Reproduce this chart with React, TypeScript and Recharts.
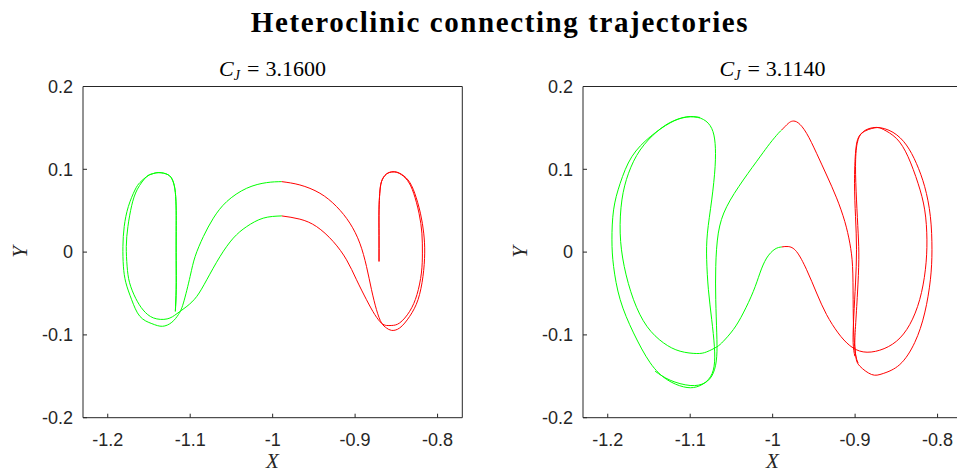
import { LineChart, Line, XAxis, YAxis } from "recharts";

const xTicks = [-1.2, -1.1, -1, -0.9, -0.8];
const yTicks = [-0.2, -0.1, 0, 0.1, 0.2];
const xDomain = [-1.23, -0.77];
const yDomain = [-0.2, 0.2];
const jacobi = ["3.1600", "3.1140"];

// C_J = 3.1600, green part (two branches meeting the section x = -0.989)
const leftGreenOuter = [
  [-1.118, -0.0716], [-1.117, -0.045], [-1.117, -0.01], [-1.117, 0.025], [-1.117, 0.05],
  [-1.118, 0.072], [-1.121, 0.086], [-1.127, 0.0935], [-1.138, 0.096], [-1.146, 0.0945],
  [-1.153, 0.091], [-1.161, 0.084], [-1.167, 0.075], [-1.175, 0.055], [-1.18, 0.031],
  [-1.1816, 0.0067], [-1.181, -0.017], [-1.178, -0.037], [-1.171, -0.0575], [-1.161, -0.0776],
  [-1.1465, -0.0864], [-1.1337, -0.0896], [-1.1223, -0.0848], [-1.1143, -0.0755], [-1.1082, -0.0614],
  [-1.1001, -0.0294], [-1.094, -0.0053], [-1.084, 0.0188], [-1.0719, 0.041], [-1.0557, 0.061],
  [-1.0315, 0.0771], [-1.0073, 0.0839], [-0.989, 0.0851],
];
const leftGreenInner = [
  [-1.118, -0.0716], [-1.117, -0.045], [-1.117, -0.01], [-1.117, 0.025], [-1.117, 0.05],
  [-1.118, 0.072], [-1.121, 0.086], [-1.127, 0.0935], [-1.138, 0.096], [-1.146, 0.0945],
  [-1.153, 0.091], [-1.164, 0.076], [-1.171, 0.056], [-1.1755, 0.031], [-1.1775, 0.0067],
  [-1.1765, -0.017], [-1.1735, -0.037], [-1.166, -0.056], [-1.157, -0.07], [-1.1446, -0.0795],
  [-1.128, -0.0807], [-1.116, -0.0743], [-1.104, -0.0655], [-1.092, -0.0535], [-1.0799, -0.0334],
  [-1.0638, -0.0053], [-1.0477, 0.0169], [-1.0315, 0.0308], [-1.0114, 0.041], [-0.989, 0.0437],
];
// C_J = 3.1600, red part
const leftRedOuter = [
  [-0.989, 0.0851], [-0.967, 0.0811], [-0.9427, 0.0711], [-0.9225, 0.055], [-0.9064, 0.035],
  [-0.8943, 0.0108], [-0.8862, -0.0173], [-0.8801, -0.0454], [-0.8741, -0.0695], [-0.868, -0.0855],
  [-0.862, -0.0916], [-0.856, -0.0945], [-0.8459, -0.0916], [-0.8338, -0.0776], [-0.8237, -0.0575],
  [-0.8177, -0.0294], [-0.8156, -0.0012], [-0.8168, 0.0229], [-0.8208, 0.047], [-0.8277, 0.0711],
  [-0.8358, 0.0871], [-0.8459, 0.0952], [-0.854, 0.0971], [-0.862, 0.0943], [-0.868, 0.0851],
  [-0.8701, 0.0711], [-0.871, 0.051], [-0.871, 0.02], [-0.871, -0.0113],
];
const leftRedInner = [
  [-0.989, 0.0437], [-0.967, 0.0398], [-0.9467, 0.0308], [-0.9266, 0.0128], [-0.9104, -0.0093],
  [-0.8983, -0.0334], [-0.8862, -0.0575], [-0.8761, -0.0755], [-0.868, -0.0858], [-0.862, -0.0886],
  [-0.8555, -0.0886], [-0.8459, -0.0855], [-0.8338, -0.0715], [-0.825, -0.0514], [-0.8196, -0.0253],
  [-0.8184, -0.0012], [-0.819, 0.0229], [-0.8225, 0.047], [-0.829, 0.0711], [-0.8365, 0.0865],
  [-0.8459, 0.0948], [-0.854, 0.0968], [-0.862, 0.0943], [-0.868, 0.0851], [-0.8701, 0.0711],
  [-0.871, 0.051], [-0.871, 0.02], [-0.871, -0.0113],
];

// C_J = 3.1140, green part
const rightGreenUpper = [
  [-1.1425, -0.1439], [-1.1243, -0.1547], [-1.1001, -0.1611], [-1.082, -0.1578], [-1.0719, -0.1458],
  [-1.0678, -0.1258], [-1.0678, -0.0976], [-1.069, -0.0575], [-1.069, -0.0173], [-1.0659, 0.0229],
  [-1.0557, 0.0549], [-1.0356, 0.0871], [-1.0154, 0.115], [-1.0033, 0.1313], [-0.9932, 0.1434],
  [-0.989, 0.1475],
];
const rightGreenLower = [
  [-0.989, 0.0062], [-0.9972, 0.0036], [-1.0073, -0.0072], [-1.0154, -0.0253], [-1.0235, -0.0476],
  [-1.0356, -0.0735], [-1.0477, -0.0936], [-1.0598, -0.1077], [-1.0678, -0.1145], [-1.08, -0.1205],
  [-1.092, -0.1225], [-1.1122, -0.1197], [-1.1324, -0.1096], [-1.1525, -0.0896], [-1.1687, -0.0575],
  [-1.18, -0.0173], [-1.1849, 0.0229], [-1.1828, 0.063], [-1.1748, 0.0952], [-1.1607, 0.1233],
  [-1.1404, 0.1454], [-1.1203, 0.1585], [-1.1001, 0.1634], [-1.084, 0.1602], [-1.0739, 0.1494],
  [-1.0698, 0.1313], [-1.0698, 0.1032], [-1.0739, 0.063], [-1.0791, 0.0229], [-1.08, -0.0092],
  [-1.0779, -0.0454], [-1.0739, -0.0815], [-1.0707, -0.1137], [-1.071, -0.1378], [-1.0779, -0.1539],
  [-1.092, -0.1627], [-1.1082, -0.1627], [-1.1283, -0.1539], [-1.1485, -0.1337], [-1.1687, -0.0976],
  [-1.1849, -0.0575], [-1.1929, -0.0173], [-1.1949, 0.0148], [-1.1929, 0.051], [-1.1849, 0.0831],
  [-1.1708, 0.1152], [-1.1485, 0.1393], [-1.1243, 0.1561], [-1.1041, 0.1634], [-1.088, 0.1626],
];
// C_J = 3.1140, red part
const rightRedUpper = [
  [-0.989, 0.1475], [-0.9811, 0.1554], [-0.9758, 0.1582], [-0.969, 0.1561], [-0.9588, 0.1434],
  [-0.9467, 0.1193], [-0.9346, 0.0931], [-0.9225, 0.0655], [-0.9125, 0.0369], [-0.9064, 0.0108],
  [-0.9031, -0.0173], [-0.9024, -0.0575], [-0.9016, -0.0976], [-0.8992, -0.1258], [-0.8942, -0.1378],
  [-0.8801, -0.1478], [-0.8659, -0.1466], [-0.8458, -0.1358], [-0.8277, -0.1092], [-0.8156, -0.0735],
  [-0.8087, -0.0334], [-0.8068, 0.0028], [-0.8087, 0.0429], [-0.8156, 0.079], [-0.8257, 0.1072],
  [-0.8378, 0.1293], [-0.854, 0.1446], [-0.8741, 0.1506], [-0.8902, 0.1454], [-0.8975, 0.1313],
  [-0.8995, 0.1032], [-0.8983, 0.063], [-0.8963, 0.0229], [-0.8955, -0.0092], [-0.8971, -0.0494],
  [-0.8995, -0.0896], [-0.9003, -0.1137], [-0.8985, -0.128], [-0.8963, -0.1337],
];
const rightRedLower = [
  [-0.989, 0.0062], [-0.9811, 0.0067], [-0.9711, 0.0007], [-0.9588, -0.0213], [-0.9467, -0.0494],
  [-0.9346, -0.0755], [-0.9206, -0.0976], [-0.9064, -0.1129], [-0.8902, -0.1205], [-0.8701, -0.1185],
  [-0.8499, -0.1077], [-0.8338, -0.0876], [-0.8217, -0.0575], [-0.8148, -0.0213], [-0.8129, 0.0148],
  [-0.8156, 0.051], [-0.8237, 0.0831], [-0.8358, 0.1152], [-0.8499, 0.1373], [-0.8659, 0.1482],
  [-0.876, 0.1501], [-0.8922, 0.1434], [-0.8992, 0.1233], [-0.9007, 0.0831], [-0.8995, 0.0429],
  [-0.8983, 0.0028], [-0.8995, -0.0373], [-0.9016, -0.0775], [-0.9024, -0.1092], [-0.9003, -0.1258],
];

const GREEN = "#00ff00";
const RED = "#ff0000";
const INK = "#262626";

const toPts = (a: number[][]) => a.map(([x, y]) => ({ x, y }));

const tickFont = { fill: INK, fontSize: 18, fontFamily: "'Liberation Sans', Arial, sans-serif" };
const serif = "'Liberation Serif', 'Times New Roman', serif";

function Panel({ left, cj, green, red }: { left: number; cj: string; green: number[][][]; red: number[][][] }) {
  return (
    <div style={{ position: "absolute", left, top: 0, width: 480, height: 472 }}>
      <div
        style={{
          position: "absolute", left: 0, width: 545, top: 57.5, textAlign: "center",
          fontFamily: serif, fontSize: 22, lineHeight: "22px", color: "#000", whiteSpace: "nowrap",
        }}
      >
        <i>C</i>
        <sub style={{ fontSize: 14, fontStyle: "italic", verticalAlign: "-4px" }}>J</sub>
        <span style={{ margin: "0 6px 0 7px" }}>=</span>
        {cj}
      </div>
      <LineChart width={480} height={472} margin={{ top: 76.5, right: 7.7, bottom: 24.3, left: 43 }}>
        <XAxis xAxisId="b" type="number" dataKey="x" domain={xDomain} ticks={xTicks} allowDataOverflow
          interval={0} height={30} tickSize={-4} tickMargin={20} stroke={INK} tick={tickFont} />
        <XAxis xAxisId="t" orientation="top" type="number" dataKey="x" domain={xDomain} ticks={xTicks}
          allowDataOverflow interval={0} height={10} tickSize={-4} stroke={INK} tick={false} />
        <YAxis yAxisId="l" type="number" domain={yDomain} ticks={yTicks} allowDataOverflow interval={0}
          width={40} tickSize={-4} tickMargin={14} stroke={INK} tick={tickFont} />
        <YAxis yAxisId="r" orientation="right" type="number" domain={yDomain} ticks={yTicks} allowDataOverflow
          interval={0} width={10} tickSize={-4} stroke={INK} tick={false} />
        {green.map((d, i) => (
          <Line key={"g" + i} xAxisId="b" yAxisId="l" data={toPts(d)} dataKey="y" type="natural"
            stroke={GREEN} strokeWidth={1} dot={false} activeDot={false} isAnimationActive={false} />
        ))}
        {red.map((d, i) => (
          <Line key={"r" + i} xAxisId="b" yAxisId="l" data={toPts(d)} dataKey="y" type="natural"
            stroke={RED} strokeWidth={1} dot={false} activeDot={false} isAnimationActive={false} />
        ))}
      </LineChart>
      <div
        style={{
          position: "absolute", left: 0, width: 545, top: 453, height: 16, textAlign: "center",
          fontFamily: serif, fontStyle: "italic", fontSize: 21, lineHeight: "16px", color: INK,
        }}
      >
        X
      </div>
      <div
        style={{
          position: "absolute", left: 20, top: 252, transform: "translate(-50%, -50%) rotate(-90deg)",
          fontFamily: serif, fontStyle: "italic", fontSize: 21, lineHeight: "21px", color: INK,
        }}
      >
        Y
      </div>
    </div>
  );
}

export default function App() {
  return (
    <div style={{ position: "fixed", left: 0, top: 0, width: 957, height: 472, overflow: "hidden", background: "#fff" }}>
      <div
        style={{
          position: "absolute", left: 0, width: 1000, top: 8, textAlign: "center", whiteSpace: "nowrap",
          fontFamily: serif, fontWeight: "bold", fontSize: 29, lineHeight: "29px", letterSpacing: 1.6, color: "#000",
        }}
      >
        Heteroclinic connecting trajectories
      </div>
      <Panel left={0} cj={jacobi[0]} green={[leftGreenOuter, leftGreenInner]} red={[leftRedOuter, leftRedInner]} />
      <Panel left={500} cj={jacobi[1]} green={[rightGreenUpper, rightGreenLower]} red={[rightRedUpper, rightRedLower]} />
    </div>
  );
}
